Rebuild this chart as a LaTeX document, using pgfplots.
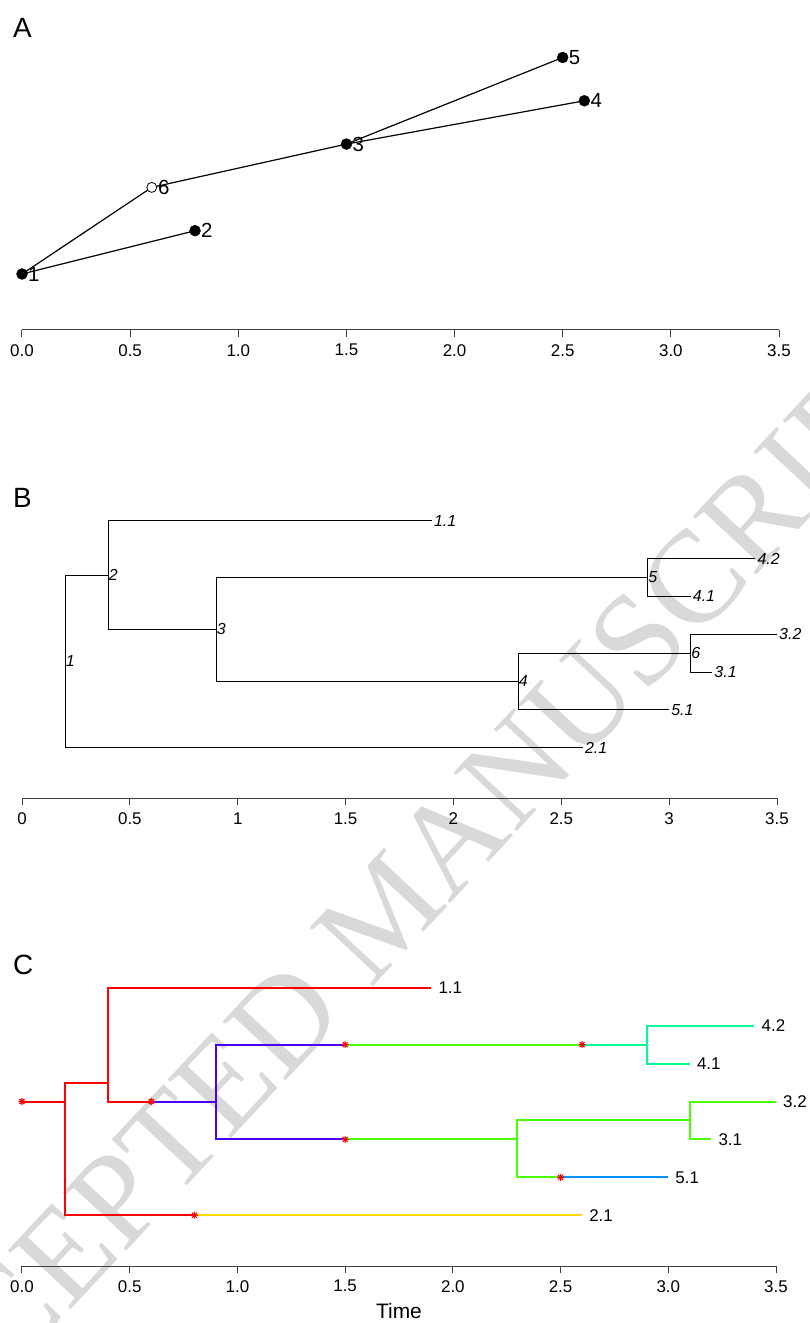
\documentclass[border=0pt]{standalone}
\usepackage{fontspec}
\setmainfont{Liberation Sans}
\newfontfamily\wmfont{Liberation Serif}
\usepackage{pgfplots}
\pgfplotsset{compat=1.18}

\definecolor{cR}{HTML}{FF0000}
\definecolor{cY}{HTML}{FFDB00}
\definecolor{cG}{HTML}{49FF00}
\definecolor{cS}{HTML}{00FF92}
\definecolor{cB}{HTML}{0092FF}
\definecolor{cP}{HTML}{4900FF}

\pgfdeclareplotmark{rstar}{%
  \pgfpathmoveto{\pgfqpoint{-\pgfplotmarksize}{0pt}}\pgfpathlineto{\pgfqpoint{\pgfplotmarksize}{0pt}}%
  \pgfpathmoveto{\pgfqpoint{0pt}{-\pgfplotmarksize}}\pgfpathlineto{\pgfqpoint{0pt}{\pgfplotmarksize}}%
  \pgfpathmoveto{\pgfqpoint{-0.7071\pgfplotmarksize}{-0.7071\pgfplotmarksize}}\pgfpathlineto{\pgfqpoint{0.7071\pgfplotmarksize}{0.7071\pgfplotmarksize}}%
  \pgfpathmoveto{\pgfqpoint{-0.7071\pgfplotmarksize}{0.7071\pgfplotmarksize}}\pgfpathlineto{\pgfqpoint{0.7071\pgfplotmarksize}{-0.7071\pgfplotmarksize}}%
  \pgfusepathqstroke}

\pgfplotsset{
  treeaxis/.style={
    scale only axis, clip=false,
    xmin=0, xmax=3.5,
    axis x line*=bottom, axis y line=none,
    ytick=\empty,
    tick align=outside, major tick length=7bp,
    xtick={0,0.5,1,1.5,2,2.5,3,3.5},
    tick style={black!75, line width=1bp},
    x axis line style={black!75, line width=1bp},
    xticklabel style={font=\fontsize{17}{17}\selectfont, inner sep=0pt, anchor=north, yshift=-7bp},
    /pgf/number format/assume math mode=true,
  },
  tiplab/.style={only marks, mark=none, nodes near coords, point meta=explicit symbolic,
    nodes near coords align={horizontal},
    every node near coord/.append style={anchor=west, inner sep=0pt, text=black, #1}},
}

\begin{document}
\begin{tikzpicture}
% watermark
\node[overlay, rotate=47, text=black!15, font=\wmfont\fontsize{132}{132}\selectfont] at (385bp,412bp) {ACCEPTED MANUSCRIPT};

% panel labels
\node[anchor=base west, inner sep=0pt, font=\fontsize{28}{28}\selectfont] at (13bp,1285bp) {A};
\node[anchor=base west, inner sep=0pt, font=\fontsize{28}{28}\selectfont] at (13bp,815.5bp) {B};
\node[anchor=base west, inner sep=0pt, font=\fontsize{28}{28}\selectfont] at (13bp,348bp) {C};

% ---------------- Panel A ----------------
\begin{axis}[treeaxis, at={(22bp,993bp)}, anchor=south west, width=757bp, height=272.5bp,
  ymin=-0.293, ymax=6,
  xticklabels={0.0,0.5,1.0,1.5,2.0,2.5,3.0,3.5}]
\addplot[black, line width=1.2bp, mark=none] coordinates {(0,1) (0.6,3)};
\addplot[black, line width=1.2bp, mark=none] coordinates {(0,1) (0.8,2)};
\addplot[black, line width=1.2bp, mark=none] coordinates {(0.6,3) (1.5,4)};
\addplot[black, line width=1.2bp, mark=none] coordinates {(1.5,4) (2.5,6)};
\addplot[black, line width=1.2bp, mark=none] coordinates {(1.5,4) (2.6,5)};
\addplot[only marks, mark=*, mark size=5.5bp, mark options={fill=black, draw=black},
  nodes near coords, point meta=explicit symbolic, nodes near coords align={horizontal},
  every node near coord/.append style={anchor=west, inner sep=0pt, xshift=6bp, text=black, font=\fontsize{20.5}{20.5}\selectfont}]
  coordinates {(0,1) [1] (0.8,2) [2] (1.5,4) [3] (2.6,5) [4] (2.5,6) [5]};
\addplot[only marks, mark=*, mark size=5bp, mark options={fill=white, draw=black, line width=0.8bp},
  nodes near coords, point meta=explicit symbolic, nodes near coords align={horizontal},
  every node near coord/.append style={anchor=west, inner sep=0pt, xshift=6bp, text=black, font=\fontsize{20.5}{20.5}\selectfont}]
  coordinates {(0.6,3) [6]};
\end{axis}

% ---------------- Panel B ----------------
\begin{axis}[treeaxis, at={(22bp,524.7bp)}, anchor=south west, width=755bp, height=277.5bp,
  ymin=-0.34, ymax=7,
  xticklabels={0,0.5,1,1.5,2,2.5,3,3.5}]
\addplot[black, line width=1bp, mark=none] coordinates {(0.4,5.5625) (0.2,5.5625) (0.2,1) (2.6,1)};
\addplot[black, line width=1bp, mark=none] coordinates {(1.9,7) (0.4,7) (0.4,4.125) (0.9,4.125)};
\addplot[black, line width=1bp, mark=none] coordinates {(2.9,5.5) (0.9,5.5) (0.9,2.75) (2.3,2.75)};
\addplot[black, line width=1bp, mark=none] coordinates {(3.4,6) (2.9,6) (2.9,5) (3.1,5)};
\addplot[black, line width=1bp, mark=none] coordinates {(3.1,3.5) (2.3,3.5) (2.3,2) (3.0,2)};
\addplot[black, line width=1bp, mark=none] coordinates {(3.5,4) (3.1,4) (3.1,3) (3.2,3)};
\addplot[tiplab={xshift=2bp, font=\fontsize{16}{16}\selectfont\itshape}]
  coordinates {(1.9,7) [1.1] (3.4,6) [4.2] (3.1,5) [4.1] (3.5,4) [3.2] (3.2,3) [3.1] (3.0,2) [5.1] (2.6,1) [2.1]};
\addplot[tiplab={xshift=0.5bp, font=\fontsize{16}{16}\selectfont\itshape}]
  coordinates {(0.2,3.28) [1] (0.4,5.5625) [2] (0.9,4.125) [3] (2.3,2.75) [4] (2.9,5.5) [5] (3.1,3.5) [6]};
\end{axis}

% ---------------- Panel C ----------------
\begin{axis}[treeaxis, at={(22bp,57bp)}, anchor=south west, width=754bp, height=278.2bp,
  ymin=-0.34, ymax=7,
  xticklabels={0.0,0.5,1.0,1.5,2.0,2.5,3.0,3.5},
  xlabel={Time}, xlabel style={font=\fontsize{21}{21}\selectfont, anchor=base, inner sep=0pt, at={(axis description cs:0.5,0)}, yshift=-52bp}]
\addplot[cR, line width=2bp, mark=none] coordinates {(0,4) (0.2,4)};
\addplot[cR, line width=2bp, mark=none] coordinates {(0.4,4.5) (0.2,4.5) (0.2,1) (0.8,1)};
\addplot[cY, line width=2bp, mark=none] coordinates {(0.8,1) (2.6,1)};
\addplot[cR, line width=2bp, mark=none] coordinates {(1.9,7) (0.4,7) (0.4,4) (0.6,4)};
\addplot[cP, line width=2bp, mark=none] coordinates {(0.6,4) (0.9,4)};
\addplot[cP, line width=2bp, mark=none] coordinates {(1.5,5.5) (0.9,5.5) (0.9,3) (1.5,3)};
\addplot[cG, line width=2bp, mark=none] coordinates {(1.5,5.5) (2.6,5.5)};
\addplot[cS, line width=2bp, mark=none] coordinates {(2.6,5.5) (2.9,5.5)};
\addplot[cS, line width=2bp, mark=none] coordinates {(3.4,6) (2.9,6) (2.9,5) (3.1,5)};
\addplot[cG, line width=2bp, mark=none] coordinates {(1.5,3) (2.3,3)};
\addplot[cG, line width=2bp, mark=none] coordinates {(3.1,3.5) (2.3,3.5) (2.3,2) (2.5,2)};
\addplot[cB, line width=2bp, mark=none] coordinates {(2.5,2) (3.0,2)};
\addplot[cG, line width=2bp, mark=none] coordinates {(3.5,4) (3.1,4) (3.1,3) (3.2,3)};
\addplot[only marks, mark=rstar, mark size=3.5bp, mark options={draw=cR, line width=1.1bp}]
  coordinates {(0,4) (0.6,4) (1.5,5.5) (2.6,5.5) (1.5,3) (2.5,2) (0.8,1)};
\addplot[tiplab={xshift=7bp, font=\fontsize{17}{17}\selectfont}]
  coordinates {(1.9,7) [1.1] (3.4,6) [4.2] (3.1,5) [4.1] (3.5,4) [3.2] (3.2,3) [3.1] (3.0,2) [5.1] (2.6,1) [2.1]};
\end{axis}

\pgfresetboundingbox
\path (0,0) rectangle (810bp,1323bp);
\end{tikzpicture}
\end{document}
